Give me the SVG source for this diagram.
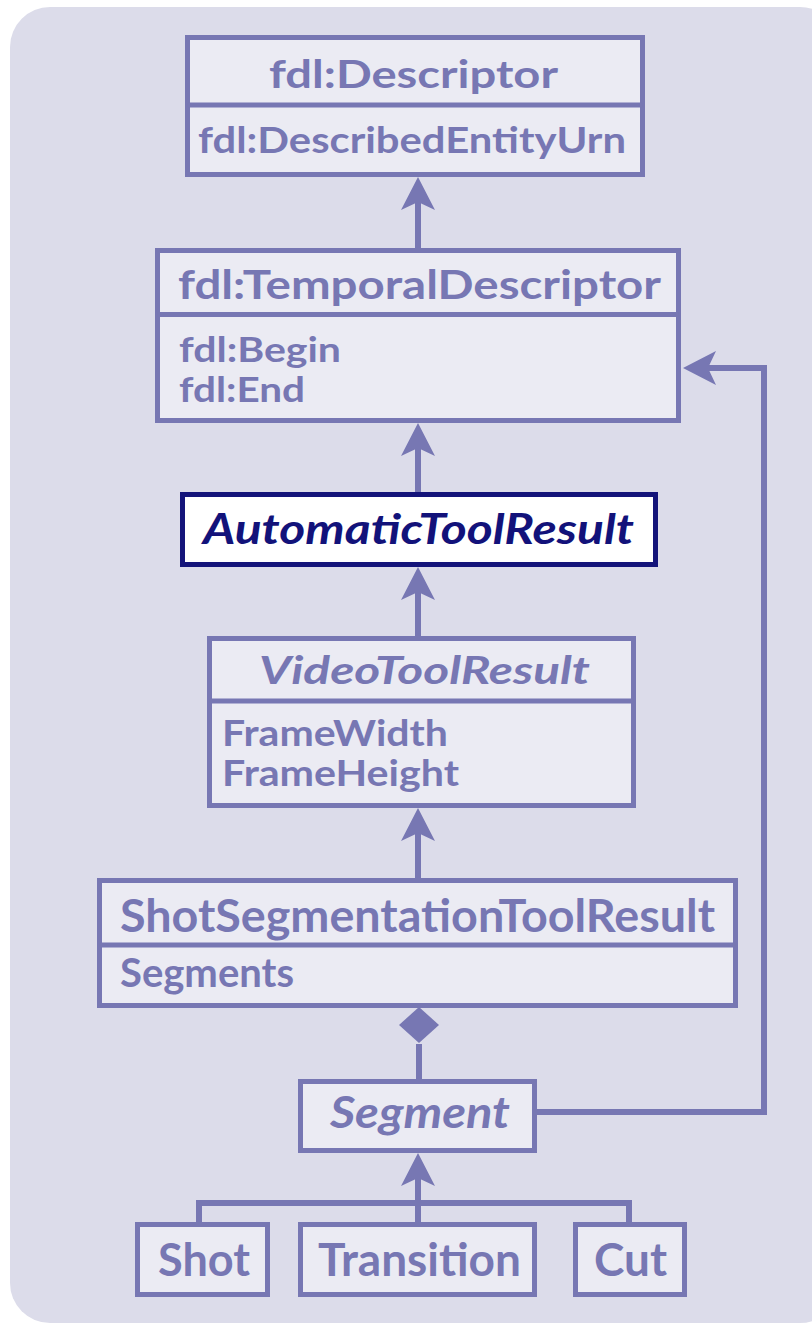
<svg xmlns="http://www.w3.org/2000/svg" width="812" height="1323" viewBox="0 0 812 1323">
<style>
.bg{fill:#dcdcea}
.box{fill:#ebebf3;stroke:#7777b3;stroke-width:5}
.div{stroke:#7777b3;stroke-width:5}
.abox{fill:#ffffff;stroke:#14147a;stroke-width:5}
.t{font-family:Lato,"Open Sans","DejaVu Sans",sans-serif;font-weight:700;fill:#7777b3}
.ti{font-style:italic}
.tn{fill:#12127a}
.c{fill:none;stroke:#7777b3;stroke-width:6}
</style>
<defs>
<marker id="gen" markerUnits="userSpaceOnUse" viewBox="0 -18 34 36" markerWidth="34" markerHeight="36" refX="8" refY="0" orient="auto">
<path d="M33,0 L0,-17 L8,0 L0,17 Z" fill="#7777b3"/>
</marker>
</defs>
<rect class="bg" x="10" y="7" width="830" height="1316" rx="40"/>
<g id="connectors">
<line class="c" x1="418" y1="248" x2="418" y2="202" marker-end="url(#gen)"/>
<line class="c" x1="418" y1="492" x2="418" y2="448" marker-end="url(#gen)"/>
<line class="c" x1="418" y1="636" x2="418" y2="592" marker-end="url(#gen)"/>
<line class="c" x1="418" y1="878" x2="418" y2="833" marker-end="url(#gen)"/>
<path class="c" d="M419,1080 V1044"/>
<path d="M419,1007 L439,1025 L419,1043 L399,1025 Z" fill="#7777b3"/>
<path class="c" d="M537,1112 H764 V368 H708" marker-end="url(#gen)"/>
<path class="c" d="M199,1224 V1203 H629 V1224"/>
<line class="c" x1="418" y1="1224" x2="418" y2="1178" marker-end="url(#gen)"/>
</g>
<g id="descriptor">
<rect class="box" x="187.5" y="37.5" width="455" height="137"/>
<line class="div" x1="187.5" y1="105" x2="642.5" y2="105"/>
<text class="t" x="269" y="88" font-size="39" textLength="289" lengthAdjust="spacingAndGlyphs">fdl:Descriptor</text>
<text class="t" x="198" y="153" font-size="37" textLength="428" lengthAdjust="spacingAndGlyphs">fdl:DescribedEntityUrn</text>
</g>
<g id="temporalDescriptor">
<rect class="box" x="157.5" y="250.5" width="521" height="170"/>
<line class="div" x1="157.5" y1="314.5" x2="678.5" y2="314.5"/>
<text class="t" x="178" y="299" font-size="41" textLength="483" lengthAdjust="spacingAndGlyphs">fdl:TemporalDescriptor</text>
<text class="t" x="179" y="362" font-size="35" textLength="162" lengthAdjust="spacingAndGlyphs">fdl:Begin</text>
<text class="t" x="179" y="402" font-size="35" textLength="126" lengthAdjust="spacingAndGlyphs">fdl:End</text>
</g>
<g id="automaticToolResult">
<rect class="abox" x="182.5" y="494.5" width="473" height="70"/>
<text class="t ti tn" x="203" y="544" font-size="42" textLength="431" lengthAdjust="spacingAndGlyphs">AutomaticToolResult</text>
</g>
<g id="videoToolResult">
<rect class="box" x="209.5" y="638.5" width="424" height="167"/>
<line class="div" x1="209.5" y1="701" x2="633.5" y2="701"/>
<text class="t ti" x="259" y="684" font-size="39" textLength="331" lengthAdjust="spacingAndGlyphs">VideoToolResult</text>
<text class="t" x="222" y="746" font-size="36" textLength="226" lengthAdjust="spacingAndGlyphs">FrameWidth</text>
<text class="t" x="222" y="786" font-size="36" textLength="237" lengthAdjust="spacingAndGlyphs">FrameHeight</text>
</g>
<g id="shotSegmentationToolResult">
<rect class="box" x="99.5" y="880.5" width="636" height="125"/>
<line class="div" x1="99.5" y1="945" x2="735.5" y2="945"/>
<text class="t" x="120" y="932" font-size="45" textLength="595" lengthAdjust="spacingAndGlyphs">ShotSegmentationToolResult</text>
<text class="t" x="120" y="987" font-size="40" textLength="174" lengthAdjust="spacingAndGlyphs">Segments</text>
</g>
<g id="segment">
<rect class="box" x="300.5" y="1081.5" width="234" height="69"/>
<text class="t ti" x="330" y="1128" font-size="43" textLength="180" lengthAdjust="spacingAndGlyphs">Segment</text>
</g>
<g id="shot">
<rect class="box" x="137.5" y="1224.5" width="130" height="70"/>
<text class="t" x="158" y="1276" font-size="45" textLength="92" lengthAdjust="spacingAndGlyphs">Shot</text>
</g>
<g id="transition">
<rect class="box" x="300.5" y="1224.5" width="234" height="70"/>
<text class="t" x="318" y="1276" font-size="45" textLength="203" lengthAdjust="spacingAndGlyphs">Transition</text>
</g>
<g id="cut">
<rect class="box" x="575.5" y="1224.5" width="109" height="70"/>
<text class="t" x="594" y="1276" font-size="45" textLength="73" lengthAdjust="spacingAndGlyphs">Cut</text>
</g>
</svg>
